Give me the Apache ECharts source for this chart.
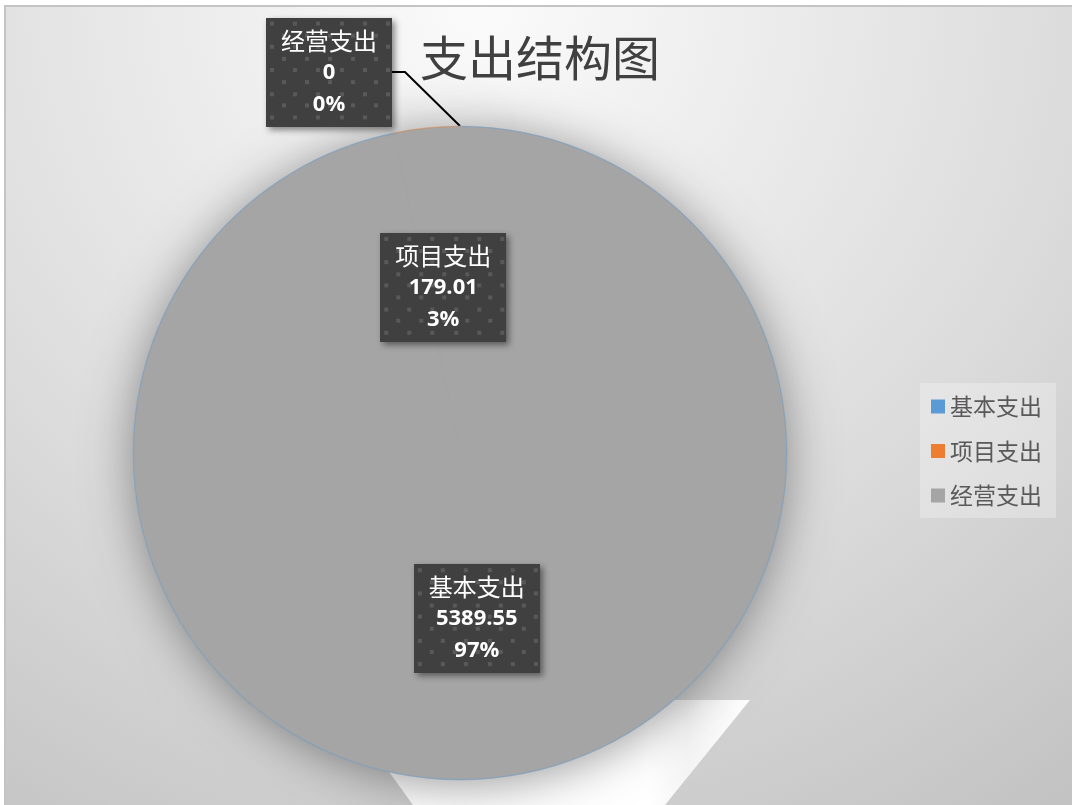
<!DOCTYPE html>
<html><head><meta charset="utf-8">
<script src="https://cdn.jsdelivr.net/npm/echarts@6/dist/echarts.min.js"></script>
<style>html,body{margin:0;padding:0;background:#fff}#c{width:1072px;height:805px}</style>
</head><body><div id="c"></div>
<script>
const categories = ['基本支出', '项目支出', '经营支出'];
const values = [5389.55, 179.01, 0];
const legendColors = ['#5b9bd5', '#ed7d31', '#a5a5a5'];
const titleText = '支出结构图';

function makePattern(w, h) {
  const c = document.createElement('canvas');
  c.width = w; c.height = h;
  const g = c.getContext('2d');
  g.fillStyle = '#404040'; g.fillRect(0, 0, w, h);
  g.fillStyle = '#595959';
  const s = 11.6;
  for (let r = 0; r * s < h; r++) {
    for (let k = -1; k * 2 * s < w + s; k++) {
      const x = k * 2 * s + (r % 2 ? s : 0) + 4;
      g.fillRect(Math.round(x), Math.round(r * s + 4), 4, 4);
    }
  }
  return c;
}
const pat = makePattern(126, 108);

const chart = echarts.init(document.getElementById('c'), null, {renderer: 'canvas'});

const pieData = categories.map((n, i) => {
  const item = {name: n, value: values[i]};
  if (values[i] === 0) {
    item.label = {position: 'outside'};
    item.labelLine = {show: true, length: 10, length2: 13, smooth: false,
      lineStyle: {color: '#000', width: 2, opacity: 1}};
  }
  return item;
});
const plainData = categories.map((n, i) => ({name: n, value: values[i]}));

chart.setOption({
  animation: false,
  title: {
    text: titleText, left: 415, top: 29,
    textStyle: {fontFamily: 'Noto Sans CJK SC', fontSize: 48, fontWeight: 'normal', color: '#404040'}
  },
  legend: {
    orient: 'vertical', left: 920, top: 383,
    padding: [12, 14, 11, 11],
    backgroundColor: 'rgba(255,255,255,0.28)',
    itemWidth: 14, itemHeight: 14, itemGap: 21.5, icon: 'rect',
    selectedMode: false,
    textStyle: {fontFamily: 'Noto Sans CJK SC', fontSize: 23, color: '#595959', lineHeight: 23},
    data: categories.map((n, i) => ({name: n, itemStyle: {color: legendColors[i]}}))
  },
  graphic: [
    {type: 'rect', z: -10, shape: {x: 0, y: 0, width: 1072, height: 805}, style: {fill: '#ffffff'}},
    {type: 'rect', z: -9, shape: {x: 5, y: 6, width: 1067, height: 799},
      style: {fill: {type: 'radial', x: 480, y: 0, r: 980, global: true,
        colorStops: [{offset: 0, color: '#fbfbfb'}, {offset: 0.45, color: '#e4e4e4'},
          {offset: 0.62, color: '#dbdbdb'}, {offset: 1, color: '#c3c3c3'}]}}},
    {type: 'polyline', z: -8, shape: {points: [[5, 805], [5, 6], [1072, 6]]},
      style: {stroke: '#c4c4c4', lineWidth: 2, fill: null}},
    {type: 'polygon', z: -7, shape: {points: [[337, 700], [750, 700], [665, 805], [413, 805]]},
      style: {fill: {type: 'linear', x: 0, y: 0, x2: 1, y2: 0,
        colorStops: [{offset: 0, color: '#ffffff'}, {offset: 0.75, color: '#ffffff'}, {offset: 0.85, color: '#f4f4f4'}, {offset: 1, color: '#ffffff'}]}}}
  ],
  series: [
    {
      type: 'pie', center: [460, 453], radius: 326, z: 1,
      startAngle: 90, clockwise: true, silent: true,
      emphasis: {disabled: true},
      label: {show: false}, labelLine: {show: false},
      itemStyle: {color: '#a5a5a5', shadowBlur: 50, shadowOffsetY: 4, shadowColor: 'rgba(0,0,0,0.42)'},
      data: plainData
    },
    {
      type: 'pie', center: [460, 453], radius: 327, z: 2,
      startAngle: 90, clockwise: true,
      avoidLabelOverlap: false, percentPrecision: 0,
      emphasis: {disabled: true},
      itemStyle: {color: '#a5a5a5'},
      labelLine: {lineStyle: {color: '#000', width: 2}},
      label: {
        show: true, position: 'inside',
        formatter: '{t|{b}}\n{n|{c}}\n{n|{d}%}',
        backgroundColor: {image: pat},
        padding: [7, 11, 6, 11], width: 104, align: 'center',
        shadowBlur: 6, shadowOffsetX: 3, shadowOffsetY: 3, shadowColor: 'rgba(0,0,0,0.45)',
        rich: {
          t: {fontFamily: 'Noto Sans CJK SC', fontSize: 24, color: '#fff', lineHeight: 32, align: 'center'},
          n: {fontFamily: 'Open Sans', fontWeight: 'bold', fontSize: 22, color: '#fff', lineHeight: 32, align: 'center'}
        }
      },
      labelLayout: function (p) {
        if (p.dataIndex === 2) return {x: 329, y: 72, align: 'center', verticalAlign: 'middle'};
      },
      data: pieData
    },
    {
      type: 'pie', center: [460, 453], radius: [326, 327.4], z: 3,
      startAngle: 90, clockwise: true, silent: true,
      emphasis: {disabled: true},
      label: {show: false}, labelLine: {show: false},
      itemStyle: {opacity: 0.35},
      color: legendColors,
      data: plainData
    }
  ]
});
</script></body></html>
